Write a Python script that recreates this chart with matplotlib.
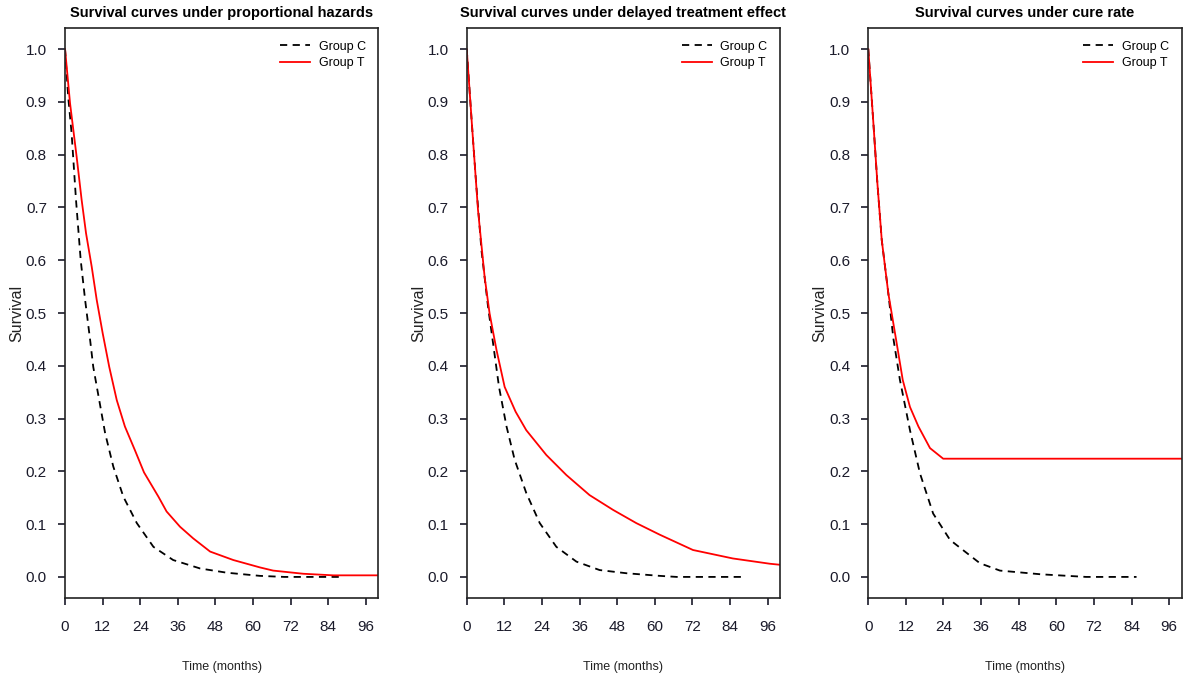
import matplotlib
matplotlib.use("Agg")
import matplotlib.pyplot as plt

# values (time in months, survival probability)
ph_c_time = [0, 1, 2.1, 3.5, 5.0, 6.4, 8.0, 9.0, 10.9, 12.8, 15.4, 18.6, 22.9, 28.2, 34.5, 43.1, 51.6, 62.2, 70, 88.8]
ph_c_surv = [1.0, 0.91, 0.84, 0.714, 0.6, 0.525, 0.449, 0.398, 0.335, 0.272, 0.209, 0.152, 0.102, 0.057, 0.032, 0.016, 0.008, 0.002, 0.0, 0.0]
ph_t_time = [0, 1.6, 3.7, 5.3, 6.7, 8.5, 10.1, 12.0, 14.1, 16.5, 19.1, 22.3, 25.2, 29.8, 32.4, 36.7,
             40.9, 46.3, 53.7, 62.2, 66.4, 76, 85.6, 100]
ph_t_surv = [1.0, 0.897, 0.796, 0.714, 0.651, 0.588, 0.525, 0.462, 0.398, 0.335, 0.285, 0.240, 0.198, 0.152, 0.124, 0.095,
             0.073, 0.048, 0.032, 0.018, 0.012, 0.006, 0.003, 0.003]

dt_c_time = [0, 1.6, 3.0, 4.7, 6.8, 8.4, 10.3, 12.7, 15.3, 19.0, 23.3, 28.6, 35.0, 42.4, 50.9, 61.6, 67, 88.7]
dt_c_surv = [1.0, 0.862, 0.746, 0.619, 0.512, 0.443, 0.360, 0.285, 0.222, 0.159, 0.102, 0.057, 0.029, 0.013, 0.007, 0.002, 0.0, 0.0]
dt_t_time = [0, 1.6, 3.6, 5.7, 7.3, 9.5, 12.1, 15.6, 19.0, 25.4, 31.8, 39.2, 46.7, 54.1, 61.6, 72.2, 84.9, 96.7, 100]
dt_t_surv = [1.0, 0.862, 0.695, 0.569, 0.499, 0.430, 0.360, 0.313, 0.278, 0.231, 0.193, 0.155, 0.127, 0.102, 0.080,
             0.051, 0.035, 0.025, 0.023]

cr_c_time = [0, 1.6, 2.9, 4.3, 6.4, 8.0, 10.1, 13.3, 16.5, 20.7, 26.1, 35.6, 42, 55, 69.5, 85.6]
cr_c_surv = [1.0, 0.862, 0.746, 0.638, 0.537, 0.452, 0.373, 0.278, 0.196, 0.12, 0.07, 0.026, 0.012, 0.005, 0.0, 0.0]
cr_t_time = [0, 1.6, 2.9, 4.3, 6.4, 8.8, 11.0, 13.3, 16.0, 19.7, 23.9, 100]
cr_t_surv = [1.0, 0.862, 0.746, 0.638, 0.537, 0.452, 0.373, 0.322, 0.285, 0.244, 0.224, 0.224]

titles = [
    "Survival curves under proportional hazards",
    "Survival curves under delayed treatment effect",
    "Survival curves under cure rate",
]
x_ticks = [0, 12, 24, 36, 48, 60, 72, 84, 96]
y_ticks = [0.0, 0.1, 0.2, 0.3, 0.4, 0.5, 0.6, 0.7, 0.8, 0.9, 1.0]

panels = [
    (ph_c_time, ph_c_surv, ph_t_time, ph_t_surv),
    (dt_c_time, dt_c_surv, dt_t_time, dt_t_surv),
    (cr_c_time, cr_c_surv, cr_t_time, cr_t_surv),
]

plt.rcParams["font.family"] = ["Liberation Sans", "DejaVu Sans"]

fig = plt.figure(figsize=(11.87, 6.83), dpi=100)
lefts = [0.0548, 0.3932, 0.7315]

for left, title, (ct, cs, tt, ts) in zip(lefts, titles, panels):
    ax = fig.add_axes([left, 0.1244, 0.264, 0.8346])
    ax.plot(ct, cs, color="black", lw=1.3, ls=(0, (4, 3)), label="Group C")
    ax.plot(tt, ts, color="red", lw=1.3, label="Group T")
    ax.set_xlim(0, 100)
    ax.set_ylim(-0.04, 1.04)
    ax.set_xticks(x_ticks)
    ax.set_yticks(y_ticks)
    ax.set_yticklabels([f"{v:.1f}" for v in y_ticks])
    ax.tick_params(axis="both", direction="out", length=5, width=1.2,
                   labelsize=11, colors="#1a1a2a")
    ax.tick_params(axis="x", pad=11)
    ax.tick_params(axis="y", pad=8)
    for sp in ax.spines.values():
        sp.set_linewidth(1.2)
        sp.set_color("#222222")
    ax.set_title(title, fontsize=10.5, fontweight="bold", pad=8)
    ax.set_xlabel("Time (months)", fontsize=9, labelpad=19, color="#222222")
    ax.set_ylabel("Survival", fontsize=11.5, color="#222222")
    ax.yaxis.set_label_coords(-0.13, 0.5)
    ax.legend(loc="upper right", frameon=False, fontsize=9, handlelength=2.4,
              handletextpad=0.7, borderaxespad=0.6, labelspacing=0.35)

plt.savefig("out.png", dpi=100)
